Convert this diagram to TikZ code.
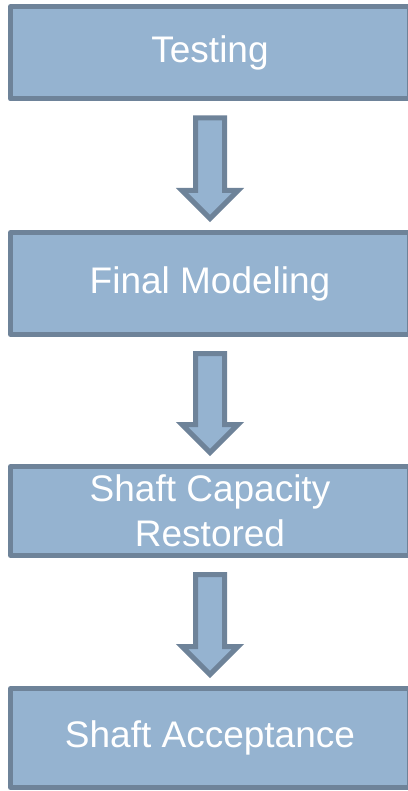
\documentclass[tikz,border=0pt]{standalone}
\usepackage{fontspec}
\setmainfont{Liberation Sans}
\usetikzlibrary{positioning,calc}

\definecolor{stepfill}{RGB}{149,179,208}
\definecolor{stepline}{RGB}{110,131,153}

% hollow block arrow from the bottom of one box to the top of the next
\newcommand{\flowarrow}[2]{%
  \draw[blk] let \p1=(#1.south), \p2=(#2.north) in
    (\x1-14.5pt,\y1-19pt) -- (\x1-14.5pt,\y2+42pt) -- (\x1-28pt,\y2+42pt)
    -- (\x1,\y2+14pt) -- (\x1+28pt,\y2+42pt) -- (\x1+14.5pt,\y2+42pt)
    -- (\x1+14.5pt,\y1-19pt) -- cycle;}

\begin{document}
\begin{tikzpicture}[
  x=1pt, y=1pt,
  stepbox/.style={draw=stepline, fill=stepfill, line width=5pt, line join=round,
    minimum width=399pt, inner sep=0pt, outer sep=0pt, align=center,
    text=white, font=\fontsize{37}{45}\selectfont},
  blk/.style={draw=stepline, fill=stepfill, line width=5pt, line join=miter}]

\useasboundingbox (0,0) rectangle (407,-791);

\node[stepbox, minimum height=92.5pt] (test) at (210,-52.75) {Testing};
\node[stepbox, minimum height=102pt, below=133.5pt of test] (model) {Final Modeling};
\node[stepbox, minimum height=89pt, below=132pt of model] (restore) {Shaft Capacity\\Restored};
\node[stepbox, minimum height=99pt, below=133pt of restore] (accept) {Shaft Acceptance};

\flowarrow{test}{model}
\flowarrow{model}{restore}
\flowarrow{restore}{accept}
\end{tikzpicture}
\end{document}
